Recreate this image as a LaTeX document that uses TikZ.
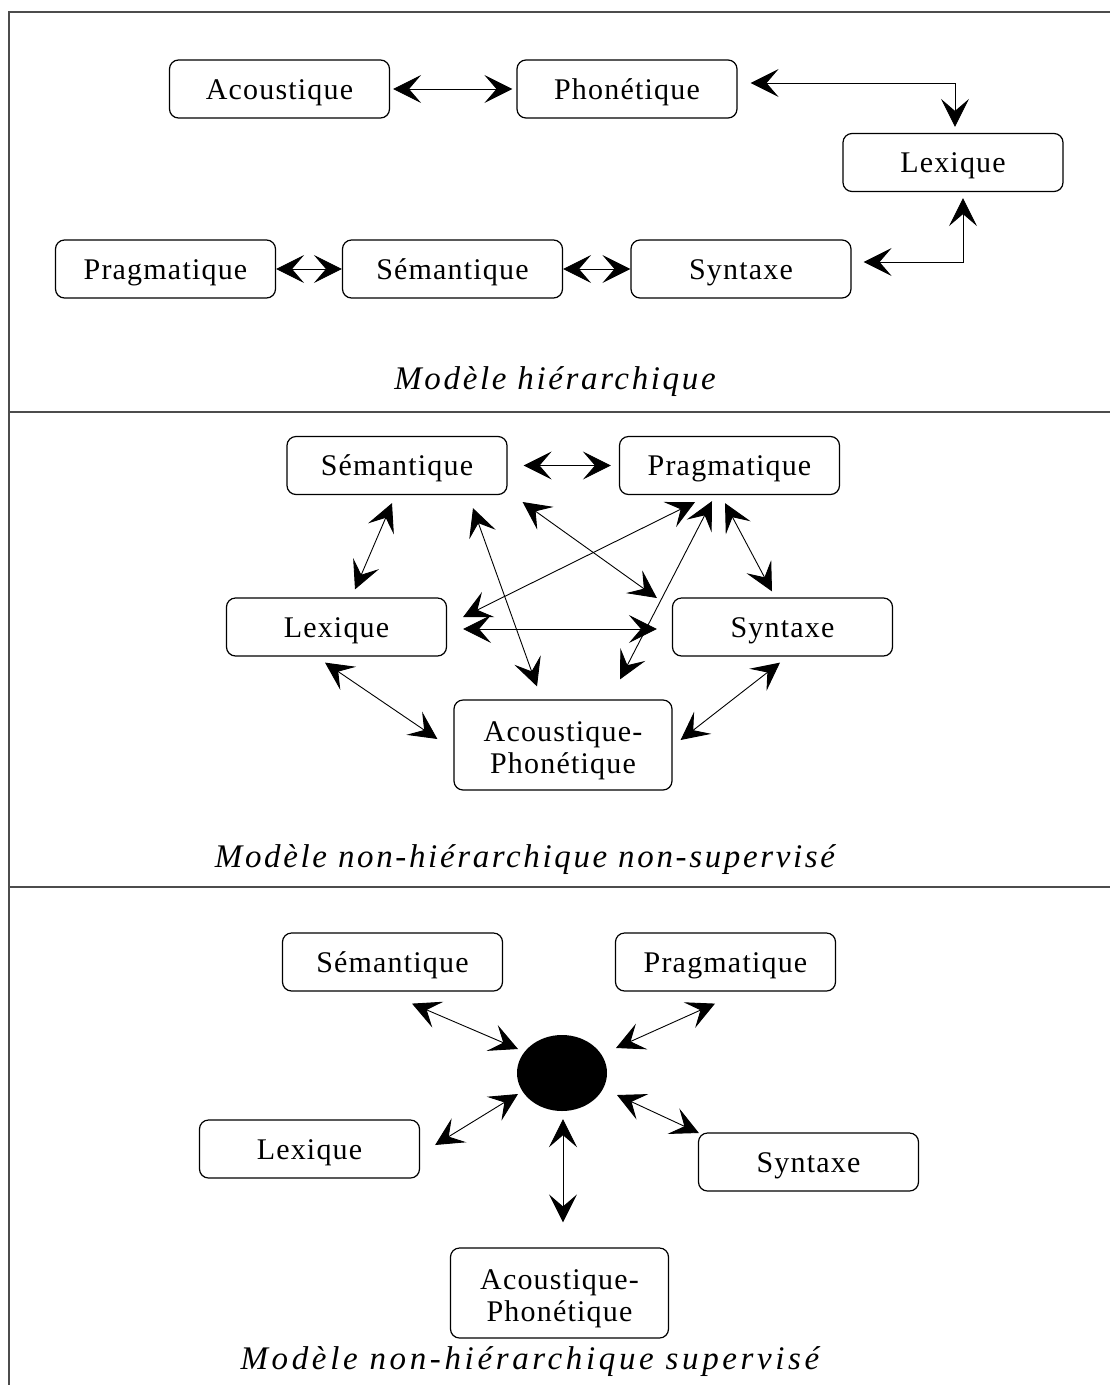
\documentclass[tikz,border=0pt]{standalone}
\usepackage{fontspec}
\setmainfont{Liberation Serif}
\newfontfamily\boxfont[LetterSpace=4]{Liberation Serif}
\newfontfamily\captfont[LetterSpace=8]{Liberation Serif}
\newfontfamily\widecaptfont[LetterSpace=11]{Liberation Serif}
\newcommand\apstrut{\rule{0pt}{32pt}}
\usetikzlibrary{arrows.meta,calc,shapes.geometric}

\begin{document}
\begin{tikzpicture}[x=1pt,y=-1pt,
  basebox/.style={draw, line width=1.2pt, rounded corners=9pt,
    inner sep=0pt, font=\boxfont\fontsize{30}{32}\selectfont, align=center},
  modbox/.style={basebox, minimum width=220pt, minimum height=58pt, text height=27pt},
  tallbox/.style={basebox, minimum width=218pt, minimum height=90pt},
  link/.style={line width=0.9pt,
    {Stealth[length=28pt,width=28pt,inset=12pt]}-{Stealth[length=28pt,width=28pt,inset=12pt]}},
  caption/.style={font=\captfont\itshape\fontsize{33}{36}\selectfont, inner sep=0pt},
  widecaption/.style={font=\widecaptfont\itshape\fontsize{33}{36}\selectfont, inner sep=0pt},
  frame/.style={line width=1.4pt, black!70}]

\useasboundingbox (0,0) rectangle (1110,1385);

% outer frame and panel separators
\draw[frame] (9,1385) -- (9,12) -- (1110,12);
\draw[frame] (9,412) -- (1110,412);
\draw[frame] (9,887) -- (1110,887);

% ---------- hierarchical model ----------
\node[modbox] (ac1) at (279.5,89) {Acoustique};
\node[modbox] (ph1) at (627,89) {Phonétique};
\node[modbox] (lx1) at (953,162.5) {Lexique};
\node[modbox] (pr1) at (165.5,269) {Pragmatique};
\node[modbox] (se1) at (452.5,269) {Sémantique};
\node[modbox] (sy1) at (741,269) {Syntaxe};

\draw[link] ([xshift=3pt]ac1.east) -- ([xshift=-4pt]ph1.west);
\draw[link] ([shift={(13,-6)}]ph1.east) -| ([shift={(2,-6)}]lx1.north);
\draw[link] ([shift={(12,-7)}]sy1.east) -| ([shift={(10,6)}]lx1.south);
\draw[link] (pr1.east) -- (se1.west);
\draw[link] (se1.east) -- (sy1.west);

\node[caption] (t1) at (555,382) {Modèle hiérarchique};

% ---------- non-hierarchical, unsupervised ----------
\node[modbox] (se2) at (397,465.5) {Sémantique};
\node[modbox] (pr2) at (729.5,465.5) {Pragmatique};
\node[modbox] (lx2) at (336.5,627) {Lexique};
\node[modbox] (sy2) at (782.5,627) {Syntaxe};
\node[tallbox] (ap2) at (563,745) {\apstrut Acoustique-\\Phonétique};

\draw[link] ([xshift=16pt]se2.east) -- ([xshift=-8pt]pr2.west);
\draw[link] ([shift={(-5,8)}]se2.south) -- ([shift={(18.5,-8)}]lx2.north);
\draw[link] ([shift={(-11.5,6)}]lx2.south) -- ([shift={(-16,-6)}]ap2.west);
\draw[link] ([shift={(76,13)}]se2.south) -- ([shift={(-26,-13)}]ap2.north);
\draw[link] ([shift={(15,36.5)}]se2.east) -- ([shift={(-15,-29)}]sy2.west);
\draw[link] ([shift={(16,-10)}]lx2.east) -- ([shift={(-34.5,7)}]pr2.south);
\draw[link] ([shift={(16,2)}]lx2.east) -- ([shift={(-15,2)}]sy2.west);
\draw[link] ([shift={(-17.5,6)}]pr2.south) -- ([shift={(57,-20)}]ap2.north);
\draw[link] ([shift={(-4.5,8)}]pr2.south) -- ([shift={(-10.5,-6)}]sy2.north);
\draw[link] ([shift={(-2.5,6)}]sy2.south) -- ([shift={(8,-5)}]ap2.east);

\node[caption] (t2) at (525,860) {Modèle non-hiérarchique non-supervisé};

% ---------- non-hierarchical, supervised ----------
\node[modbox] (se3) at (392.5,962) {Sémantique};
\node[modbox] (pr3) at (725.5,962) {Pragmatique};
\node[modbox] (lx3) at (309.5,1149) {Lexique};
\node[modbox] (sy3) at (808.5,1162) {Syntaxe};
\node[tallbox] (ap3) at (559.5,1293) {\apstrut Acoustique-\\Phonétique};
\node[ellipse, fill=black, minimum width=90pt, minimum height=76pt, inner sep=0pt] (hub) at (562,1073) {};

\draw[link] ([shift={(19.5,12)}]se3.south) -- ([shift={(-44,-24)}]hub.center);
\draw[link] ([shift={(-10.5,12)}]pr3.south) -- ([shift={(54,-25)}]hub.center);
\draw[link] ([shift={(15,-4)}]lx3.east) -- ([shift={(-44,21)}]hub.center);
\draw[link] ([shift={(1,-29)}]sy3.west) -- ([shift={(55,22)}]hub.center);
\draw[link] ([shift={(1,8)}]hub.south) -- ([shift={(3.5,-25)}]ap3.north);

\node[widecaption] (t3) at (530,1362) {Modèle non-hiérarchique supervisé};

\end{tikzpicture}
\end{document}
